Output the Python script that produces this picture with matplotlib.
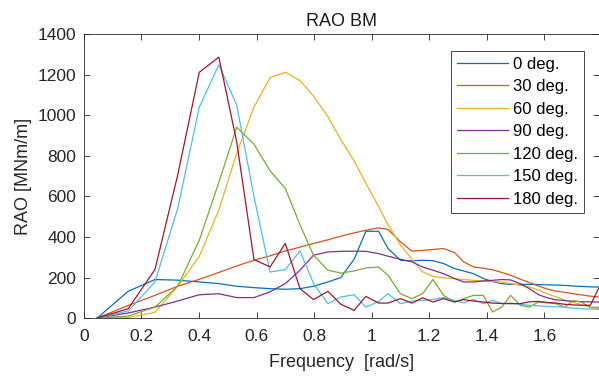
import matplotlib
matplotlib.use("Agg")
import matplotlib.pyplot as plt

freq = [0.046, 0.154, 0.247, 0.326, 0.401, 0.469, 0.531, 0.591, 0.647, 0.700,
        0.751, 0.798, 0.848, 0.893, 0.939, 0.980, 1.024, 1.057, 1.100, 1.140,
        1.177, 1.213, 1.250, 1.288, 1.320, 1.354, 1.388, 1.420, 1.452, 1.483,
        1.516, 1.548, 1.580, 1.610, 1.640, 1.670, 1.700, 1.730, 1.760, 1.790]

rao_0 = [0, 132, 190, 187, 178, 170, 157, 150, 145, 142,
         145, 157, 178, 200, 290, 428, 428, 343, 285, 282,
         285, 283, 269, 244, 232, 219, 195, 180, 170, 166,
         166, 166, 165, 164, 163, 161, 158, 156, 154, 153]
rao_30 = [0, 62, 112, 157, 191, 225, 257, 285, 307, 331,
          350, 368, 386, 404, 420, 433, 445, 437, 376, 330,
          334, 338, 343, 323, 277, 252, 246, 238, 225, 211,
          192, 175, 158, 143, 133, 127, 120, 114, 108, 104]
rao_60 = [0, 3, 28, 157, 305, 532, 812, 1040, 1186, 1212,
          1171, 1095, 993, 880, 775, 665, 550, 460, 360, 290,
          228, 206, 198, 194, 190, 186, 184, 180, 177, 170,
          162, 153, 138, 120, 105, 90, 78, 65, 54, 46]
rao_90 = [0, 25, 54, 84, 115, 120, 101, 101, 129, 170,
          236, 310, 326, 329, 330, 329, 318, 305, 290, 277,
          252, 236, 219, 195, 178, 178, 183, 186, 190, 188,
          170, 145, 115, 100, 90, 86, 83, 81, 80, 79]
rao_120 = [0, 10, 54, 157, 384, 669, 941, 858, 726, 639,
           460, 310, 236, 222, 232, 247, 252, 211, 120, 96,
           120, 190, 112, 79, 96, 112, 112, 30, 54, 112,
           63, 54, 79, 75, 71, 54, 85, 78, 52, 54]
rao_150 = [0, 35, 178, 540, 1040, 1249, 1051, 600, 227, 239,
           331, 170, 71, 104, 115, 54, 82, 120, 71, 84,
           87, 92, 101, 87, 74, 92, 71, 87, 71, 74,
           68, 63, 60, 58, 56, 54, 48, 46, 44, 43]
rao_180 = [0, 46, 239, 705, 1212, 1287, 870, 289, 252, 368,
           145, 91, 132, 68, 38, 107, 74, 74, 96, 74,
           100, 79, 96, 79, 91, 84, 79, 74, 72, 71,
           71, 80, 82, 77, 74, 68, 65, 63, 63, 150]

labels = ["0 deg.", "30 deg.", "60 deg.", "90 deg.", "120 deg.", "150 deg.", "180 deg."]
colors = ["#0072BD", "#D95319", "#EDB120", "#7E2F8E", "#77AC30", "#4DBEEE", "#A2142F"]

plt.rcParams["font.family"] = ["Liberation Sans", "DejaVu Sans"]

fig = plt.figure(figsize=(5.99, 3.80), dpi=100)
ax = fig.add_axes([0.140, 0.163, 0.860, 0.747])

for ys, lab, c in zip([rao_0, rao_30, rao_60, rao_90, rao_120, rao_150, rao_180], labels, colors):
    ax.plot(freq, ys, color=c, linewidth=0.9, label=lab)

ax.set_xlim(0, 1.79)
ax.set_ylim(0, 1400)
ax.set_xticks([0, 0.2, 0.4, 0.6, 0.8, 1, 1.2, 1.4, 1.6])
ax.set_xticklabels(["0", "0.2", "0.4", "0.6", "0.8", "1", "1.2", "1.4", "1.6"])
ax.set_yticks(range(0, 1401, 200))
ax.tick_params(direction="in", top=True, right=True, labelsize=12.5, labelcolor="#262626",
               color="#262626", length=4, width=0.6)
ax.tick_params(axis="y", pad=5.5)
ax.tick_params(axis="x", pad=8)
for s in ax.spines.values():
    s.set_color("#262626")
    s.set_linewidth(0.6)

ax.set_title("RAO BM", fontsize=13, color="#1a1a1a", pad=6)
ax.set_xlabel("Frequency  [rad/s]", fontsize=13, color="#262626", labelpad=7)
ax.set_ylabel("RAO [MNm/m]", fontsize=13, color="#262626", labelpad=4)

leg = ax.legend(loc="upper right", bbox_to_anchor=(0.971, 0.941), borderaxespad=0,
                fontsize=12, fancybox=False, framealpha=1, handlelength=3.1,
                labelspacing=0.45, handletextpad=0.3, borderpad=0.35)
leg.get_frame().set_edgecolor("#262626")
leg.get_frame().set_linewidth(0.6)

fig.savefig("out.png", dpi=100)
